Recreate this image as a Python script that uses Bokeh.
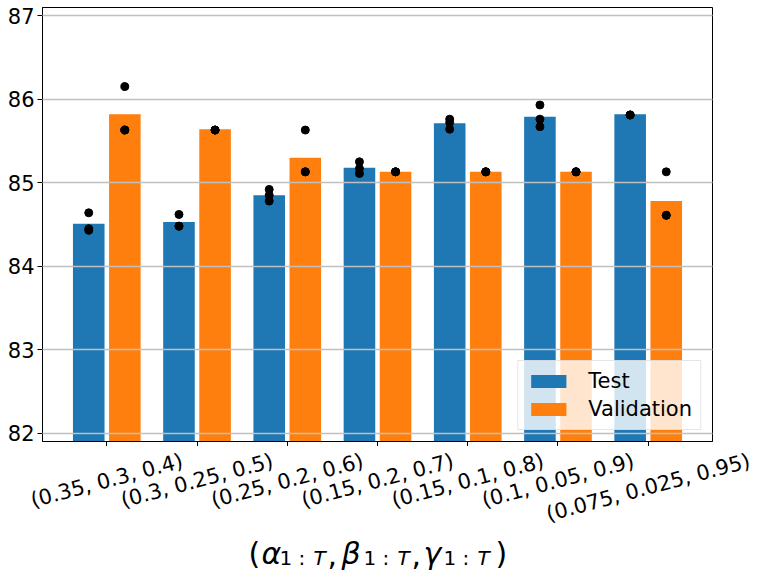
import numpy as np
from bokeh.plotting import figure
from bokeh.layouts import column
from bokeh.models import Range1d, FixedTicker, Label, Legend, LegendItem, ColumnDataSource
from bokeh.embed import file_html
from bokeh.resources import INLINE

categories = ["(0.35, 0.3, 0.4)", "(0.3, 0.25, 0.5)", "(0.25, 0.2, 0.6)",
              "(0.15, 0.2, 0.7)", "(0.15, 0.1, 0.8)", "(0.1, 0.05, 0.9)",
              "(0.075, 0.025, 0.95)"]
test_mean = [84.51, 84.53, 84.85, 85.18, 85.71, 85.79, 85.82]
val_mean = [85.82, 85.64, 85.30, 85.13, 85.13, 85.13, 84.78]
test_runs = [[84.64, 84.45, 84.43], [84.62, 84.48, 84.48], [84.92, 84.85, 84.78],
             [85.25, 85.17, 85.11], [85.76, 85.72, 85.64], [85.93, 85.76, 85.67],
             [85.81, 85.81, 85.81]]
val_runs = [[86.15, 85.63, 85.63], [85.63, 85.63, 85.63], [85.63, 85.13, 85.13],
            [85.13, 85.13, 85.13], [85.13, 85.13, 85.13], [85.13, 85.13, 85.13],
            [85.13, 84.61, 84.61]]
y_ticks = [82, 83, 84, 85, 86, 87]

FONT = "DejaVu Sans"
BLUE = "#1f77b4"
ORANGE = "#ff7f0e"
OFF = 0.2
W = 0.35

TOTAL_W, TOTAL_H = 763, 571
LEFT, RIGHT_EDGE, TOP, BOTTOM_EDGE = 42, 712, 7, 441
BOTTOM_PAD = 5
TICK_FS = 21

idx = np.arange(len(categories))
x0, x1 = -0.7125, 6.7125
y0, y1 = 81.904, 87.096

# ---------------- main plot ----------------
H1 = BOTTOM_EDGE + BOTTOM_PAD
p = figure(width=TOTAL_W, height=H1, x_range=Range1d(x0, x1), y_range=Range1d(y0, y1),
           output_backend="svg", toolbar_location=None,
           min_border_left=LEFT, min_border_right=TOTAL_W - RIGHT_EDGE,
           min_border_top=TOP, min_border_bottom=BOTTOM_PAD)

src_t = ColumnDataSource(dict(x=idx - OFF, top=test_mean))
src_v = ColumnDataSource(dict(x=idx + OFF, top=val_mean))
rt = p.vbar(x="x", top="top", bottom=0, width=W, source=src_t, fill_color=BLUE, line_color=None)
rv = p.vbar(x="x", top="top", bottom=0, width=W, source=src_v, fill_color=ORANGE, line_color=None)

tx, ty, vx, vy = [], [], [], []
for i in idx:
    for v in test_runs[i]:
        tx.append(i - OFF); ty.append(v)
    for v in val_runs[i]:
        vx.append(i + OFF); vy.append(v)
p.scatter(tx, ty, size=8, color="black")
p.scatter(vx, vy, size=8, color="black")

p.xgrid.visible = False
p.ygrid.ticker = FixedTicker(ticks=y_ticks)
p.ygrid.grid_line_color = "#c0c0c0"
p.ygrid.grid_line_width = 1.6
p.ygrid.level = "overlay"

p.xaxis.ticker = FixedTicker(ticks=list(idx))
p.xaxis.major_label_text_color = None
p.xaxis.major_label_text_font_size = "0px"
p.xaxis.major_label_standoff = 0
p.yaxis.ticker = FixedTicker(ticks=y_ticks)
for ax in (p.xaxis, p.yaxis):
    ax.minor_tick_line_color = None
    ax.major_tick_out = 5
    ax.major_tick_in = 0
    ax.major_tick_line_color = "black"
    ax.axis_line_color = "black"
p.yaxis.major_label_text_font = FONT
p.yaxis.major_label_text_font_size = f"{TICK_FS}px"
p.yaxis.major_label_text_color = "black"
p.yaxis.major_label_standoff = 3
p.outline_line_color = "black"
p.outline_line_alpha = 1.0

legend = Legend(items=[LegendItem(label="Test", renderers=[rt]),
                       LegendItem(label="Validation", renderers=[rv])],
                location="bottom_right", margin=11, padding=8, spacing=4,
                glyph_width=44, glyph_height=16, label_height=24, label_standoff=18,
                label_text_font=FONT, label_text_font_size="21px", label_text_color="black",
                background_fill_alpha=0.8, border_line_color="#cccccc", border_line_width=1)
p.add_layout(legend)

# ---------------- x tick labels + axis title strip ----------------
H2 = TOTAL_H - H1
ppu = (RIGHT_EDGE - LEFT) / (x1 - x0)
p2 = figure(width=TOTAL_W, height=H2,
            x_range=Range1d(x0 - LEFT / ppu, x1 + (TOTAL_W - RIGHT_EDGE) / ppu),
            y_range=Range1d(0, H2), output_backend="svg", toolbar_location=None,
            x_axis_location=None, y_axis_location=None,
            min_border_left=0, min_border_right=0, min_border_top=0, min_border_bottom=0)
p2.grid.visible = False
p2.outline_line_color = None
for fig in (p, p2):
    if "frame_align" in fig.properties():
        fig.frame_align = False

# rotated tick labels: top of the rotated box a fixed distance below the axis,
# horizontally centred on the tick (matplotlib ha="center", va="top" style)
ADV = {"(": 0.390, ")": 0.390, ".": 0.318, ",": 0.318, " ": 0.318}
ang = np.deg2rad(15)
label_y = []
for c in categories:
    w = TICK_FS * sum(ADV.get(ch, 0.636) for ch in c)
    h = TICK_FS * 1.164
    box_h = w * np.sin(ang) + h * np.cos(ang)
    label_y.append(TOTAL_H - (448 + box_h / 2))
p2.text(x=idx, y=label_y, text=categories, angle=15, angle_units="deg",
        text_align="center", text_baseline="middle", text_font={"value": FONT},
        text_font_size=f"{TICK_FS}px", text_color="black")

# axis title (math-like) built from pieces: (page_x, text, size, style, baseline_shift)
pieces = [
    (248, "(", "30px", "normal", 0),
    (261, "\u03b1", "30px", "italic", 0),
    (279, "1 :", "20px", "normal", -4),
    (313, "T", "20px", "italic", -4),
    (327, ",", "30px", "normal", 0),
    (341, "\u03b2", "30px", "italic", 0),
    (363, "1 :", "20px", "normal", -4),
    (397, "T", "20px", "italic", -4),
    (411, ",", "30px", "normal", 0),
    (423, "\u03b3", "30px", "italic", 0),
    (443, "1 :", "20px", "normal", -4),
    (477, "T", "20px", "italic", -4),
    (495, ")", "30px", "normal", 0),
]
base = TOTAL_H - 553
for px, t, fs, st, sh in pieces:
    p2.add_layout(Label(x=px, y=base + sh, x_units="screen", y_units="data",
                        text=t, text_font=FONT, text_font_size=fs, text_font_style=st,
                        text_align="left", text_baseline="alphabetic", text_color="black"))

layout = column(p, p2, spacing=0)
open("out.html", "w").write(file_html(layout, INLINE))
